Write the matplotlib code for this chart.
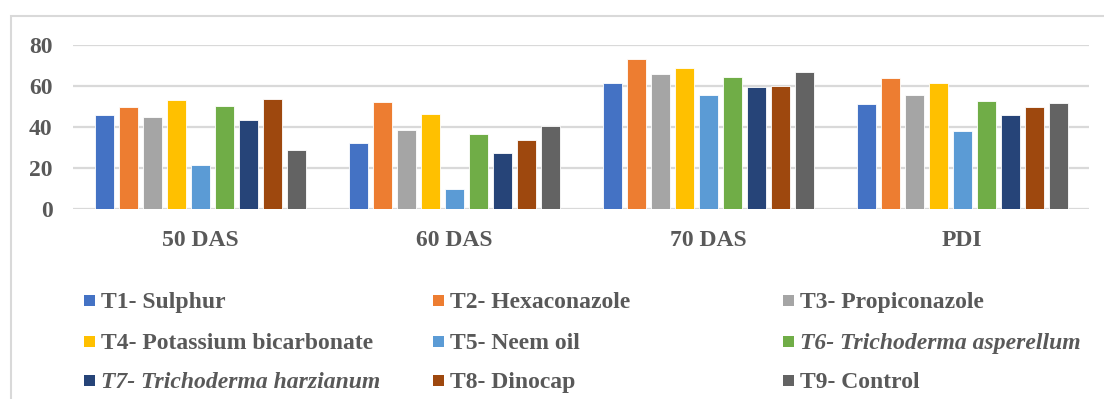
import numpy as np
import matplotlib
matplotlib.use("Agg")
import matplotlib.pyplot as plt
from matplotlib.patches import Rectangle

# Data
categories = ["50 DAS", "60 DAS", "70 DAS", "PDI"]
labels = ["T1- Sulphur", "T2- Hexaconazole", "T3- Propiconazole",
          "T4- Potassium bicarbonate", "T5- Neem oil", "T6- Trichoderma asperellum",
          "T7- Trichoderma harzianum", "T8- Dinocap", "T9- Control"]
t1 = [45.7, 31.9, 61.4, 51.1]
t2 = [49.5, 52.0, 73.2, 63.9]
t3 = [44.7, 38.4, 65.8, 55.4]
t4 = [53.1, 46.2, 68.9, 61.3]
t5 = [21.2, 9.6, 55.4, 37.8]
t6 = [50.1, 36.5, 64.2, 52.5]
t7 = [43.3, 27.0, 59.5, 46.0]
t8 = [53.7, 33.5, 60.1, 49.6]
t9 = [28.7, 40.5, 66.7, 51.7]
series = [t1, t2, t3, t4, t5, t6, t7, t8, t9]
italic = [False, False, False, False, False, True, True, False, False]

colors = ["#4472C4", "#ED7D31", "#A5A5A5", "#FFC000", "#5B9BD5",
          "#70AD47", "#264478", "#9E480E", "#636363"]
text_color = "#595959"
grid_color = "#D9D9D9"

plt.rcParams['font.family'] = ['Liberation Serif', 'DejaVu Serif']
plt.rcParams['font.weight'] = 'bold'

W, H = 1104, 399
fig = plt.figure(figsize=(W / 100, H / 100), dpi=100)

# axes placed in pixel terms
ax_l, ax_r, ax_t, ax_b = 73.3, 1089.3, 45.0, 208.7
ax = fig.add_axes([ax_l / W, (H - ax_b) / H, (ax_r - ax_l) / W, (ax_b - ax_t) / H])

x = np.arange(len(categories))
step = 0.0945
width = 0.0736
for j, vals in enumerate(series):
    ax.bar(x + (j - 4) * step, vals, width=width, color=colors[j],
           edgecolor="white", linewidth=0.6, zorder=3)

ax.set_xlim(-0.5, len(categories) - 0.5)
ax.set_ylim(0, 80)
ax.set_yticks([0, 20, 40, 60, 80])
ax.set_xticks(x)
ax.set_xticklabels(categories)
ax.yaxis.grid(True, color=grid_color, linewidth=1.6, zorder=0)
ax.set_axisbelow(True)
for s in ax.spines.values():
    s.set_visible(False)
ax.tick_params(axis="y", length=0, pad=14.8, labelsize=17, labelcolor=text_color)
ax.tick_params(axis="x", length=0, pad=15.0, labelsize=17, labelcolor=text_color)
ax.patch.set_alpha(0)

# outer chart border (light gray, cut by the image edge on right/bottom)
fig.add_artist(Rectangle((11 / W, -0.1), 1.2, (H - 15.7) / H + 0.1,
                         transform=fig.transFigure, fill=False,
                         edgecolor=grid_color, linewidth=1.5))

# legend, 3 columns x 3 rows, laid out like the Excel legend
col_x = [84.0, 433.3, 783.3]
row_y = [300.3, 341.0, 380.0]
msize = 11.0
for k, lab in enumerate(labels):
    r, c = divmod(k, 3)
    mx, my = col_x[c], row_y[r]
    fig.add_artist(Rectangle((mx / W, (H - my - msize / 2) / H), msize / W, msize / H,
                             transform=fig.transFigure, facecolor=colors[k],
                             edgecolor="none"))
    fig.text((mx + 16.9) / W, (H - my - 7.6) / H, lab, fontsize=17,
             color=text_color, fontweight="bold",
             fontstyle="italic" if italic[k] else "normal",
             ha="left", va="baseline")

fig.savefig("out.png", dpi=100)
